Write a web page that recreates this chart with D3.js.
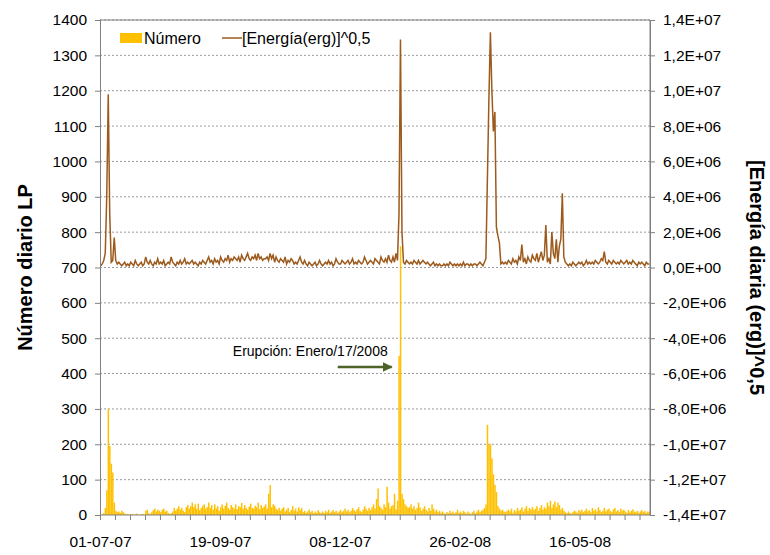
<!DOCTYPE html>
<html><head><meta charset="utf-8">
<script src="https://cdn.jsdelivr.net/npm/d3@7"></script>
<style>
body{margin:0;background:#fff;font-family:"Liberation Sans",Arial,sans-serif;}
.grid line{stroke:#9a9a9a;stroke-dasharray:2,2;}
</style></head>
<body><div id="chart"></div>
<script>
// numero diario de eventos LP, un valor por dia desde 01-07-2007
var numero = [
0,2,5,20,70,300,195,145,120,35, 12,8,10,6,12,8,4,2,3,1, 2,3,1,2,4,1,0,2,3,1,
12,15,5,3,8,14,18,10,15,12, 8,15,18,10,12,6,3,5,10,20, 12,18,25,15,20,12,8,22,28,18,
25,35,22,30,18,32,14,20,26,30, 18,22,35,20,28,15,30,18,25,12, 22,30,18,26,35,20,15,28,22,18,
30,16,25,22,34,18,28,20,15,24, 32,20,18,26,22,35,16,28,20,24, 30,18,60,85,22,30,26,18,14,20,
12,18,22,10,15,20,8,14,25,12, 18,10,22,14,20,8,12,6,10,15, 8,12,5,10,6,14,8,5,10,6,
12,8,15,6,10,14,8,12,6,10, 14,8,12,18,10,15,8,12,20,14, 10,16,22,12,8,15,25,18,12,20,
14,22,30,18,45,75,25,20,15,30, 22,80,35,18,25,28,60,15,40,450, 760,60,45,30,25,20,22,30,18,25,
15,20,35,22,12,18,25,15,10,20, 12,30,18,10,15,8,12,6,10,5, 3,8,5,12,6,10,4,8,15,6,
10,5,12,8,4,10,6,3,8,12, 5,10,15,8,12,15,20,30,255,200, 200,160,115,85,65,25,18,12,15,10,
8,12,15,10,18,6,14,10,20,12, 15,22,10,18,25,12,20,16,22,14, 18,25,12,20,28,15,22,18,35,25,
40,20,30,38,22,35,28,15,20,12, 8,5,10,6,4,8,12,10,6,14, 10,15,8,12,18,10,14,8,20,12,
16,10,22,14,8,12,20,10,15,18, 12,8,16,20,10,14,8,18,12,15, 10,6,14,8,12,16,10,8,12,6,
10,14,8,12,6,10,8
];
// [Energia(erg)]^0,5 diaria, en unidades de 1E5
var energia = [
1,2,4,8,40,98,30,3,4,17, 4,2,3,2,1,2,3,1,2,1, 3,2,1,4,2,1,2,3,1,2,
6,3,2,4,2,1,3,2,5,2, 3,2,4,1,2,3,2,6,3,2, 1,3,2,4,2,3,5,2,3,2,
3,4,2,3,2,1,3,2,4,3, 2,4,6,3,4,2,5,3,4,2, 6,4,3,5,4,7,3,5,4,6,
5,4,6,3,7,5,4,6,8,5, 4,6,5,7,4,8,5,6,4,5, 5,6,4,8,5,7,3,6,4,3,
5,4,3,6,2,4,3,5,4,2, 3,2,4,6,3,2,4,2,1,3, 2,1,2,3,1,2,4,2,1,2,
3,2,4,2,3,1,2,5,3,2, 2,4,3,2,3,4,2,3,5,2, 3,2,4,3,2,3,6,4,2,3,
4,3,2,5,4,3,2,6,4,3, 5,3,7,4,3,6,3,8,4,30, 129,20,3,2,4,3,2,3,2,4,
3,2,4,2,3,4,3,2,3,2, 1,2,3,1,2,1,2,1,1,2, 1,2,1,3,2,1,2,1,2,1,
2,1,3,1,2,2,1,2,1,2, 2,1,2,3,2,1,3,5,50,95, 133,100,77,88,23,18,14,2,3,2,
3,2,4,3,2,5,3,4,2,6, 4,13,3,5,2,6,4,3,7,5, 4,8,3,6,9,4,7,24,3,5,
2,20,8,5,16,3,12,16,42,6, 3,2,1,2,1,3,2,1,2,3, 2,3,1,2,4,2,3,2,3,2,
4,3,2,3,5,4,9,3,2,4, 3,2,4,3,2,3,2,4,3,2, 3,4,2,3,2,4,3,2,1,3,
2,3,2,1,3,2,2
];
var leftTicks = [0,100,200,300,400,500,600,700,800,900,1000,1100,1200,1300,1400];
var rightTicks = [-1.4e7,-1.2e7,-1e7,-8e6,-6e6,-4e6,-2e6,0,2e6,4e6,6e6,8e6,1e7,1.2e7,1.4e7];
var xLabels = ["01-07-07","19-09-07","08-12-07","26-02-08","16-05-08"];
var nDays = 367;

var W = 770, H = 555;
var m = {top:20, right:120, bottom:40, left:100};
var w = W - m.left - m.right, h = H - m.top - m.bottom;

var svg = d3.select("#chart").append("svg").attr("width", W).attr("height", H);
var g = svg.append("g").attr("transform", "translate(" + m.left + "," + m.top + ")");

var x = d3.scaleLinear().domain([0, nDays]).range([0, w]);
var yL = d3.scaleLinear().domain([0, 1400]).range([h, 0]);
var yR = d3.scaleLinear().domain([-1.4e7, 1.4e7]).range([h, 0]);

g.append("g").attr("class", "grid")
  .selectAll("line").data(leftTicks.slice(1)).enter().append("line")
  .attr("x1", 0).attr("x2", w).attr("y1", yL).attr("y2", yL);

// barras
var bw = x(1) - x(0);
g.selectAll(".bar").data(numero).enter().append("rect")
  .attr("x", function(d, i){ return x(i) + 0.1; })
  .attr("width", bw)
  .attr("y", function(d){ return yL(d); })
  .attr("height", function(d){ return h - yL(d); })
  .attr("fill", "#ffc000");

// linea de energia
var line = d3.line()
  .x(function(d, i){ return x(i + 0.5); })
  .y(function(d){ return yR(d * 1e5); });
g.append("path").datum(energia).attr("d", line)
  .attr("fill", "none").attr("stroke", "#9c5a1c").attr("stroke-width", 1.5);

// bordes
g.append("line").attr("x1", 0).attr("x2", w).attr("y1", 0).attr("y2", 0).attr("stroke", "#808080");
g.append("line").attr("x1", w).attr("x2", w).attr("y1", 0).attr("y2", h).attr("stroke", "#808080");

var ax = d3.axisLeft(yL).tickValues(leftTicks).tickSize(5).tickPadding(8).tickFormat(d3.format("d"));
var gl = g.append("g").call(ax);
var ar = d3.axisRight(yR).tickValues(rightTicks).tickSize(5).tickPadding(8)
  .tickFormat(function(d){
    if (d === 0) return "0,0E+00";
    var e = Math.floor(Math.log10(Math.abs(d)));
    var mnt = d / Math.pow(10, e);
    return mnt.toFixed(1).replace(".", ",") + "E+" + (e < 10 ? "0" + e : e);
  });
var gr = g.append("g").attr("transform", "translate(" + w + ",0)").call(ar);

var tickDays = d3.range(0, nDays, 10);
var axB = d3.axisBottom(x).tickValues(tickDays).tickSize(5).tickFormat(function(d){
  return d % 80 === 0 ? xLabels[d / 80] : "";
}).tickPadding(16);
var gb = g.append("g").attr("transform", "translate(0," + h + ")").call(axB);
gb.select(".domain").attr("d", "M0,0H" + w);

[gl, gr, gb].forEach(function(a){
  a.selectAll("path,line").attr("stroke", "#808080");
  a.selectAll("text").attr("font-family", "Liberation Sans, Arial, sans-serif")
    .attr("font-size", 15.5).attr("fill", "#000");
});

// titulos de ejes
svg.append("text").attr("transform", "translate(32," + (m.top + h/2) + ") rotate(-90)")
  .attr("text-anchor", "middle").attr("font-size", 20).attr("font-weight", "bold")
  .text("Número diario LP");
svg.append("text").attr("transform", "translate(750," + (m.top + h/2 + 10) + ") rotate(90)")
  .attr("text-anchor", "middle").attr("font-size", 20).attr("font-weight", "bold")
  .text("[Energía diaria (erg)]^0,5");

// leyenda
var lg = g.append("g").attr("transform", "translate(20,18)");
lg.append("rect").attr("x", 0).attr("y", -5).attr("width", 22).attr("height", 10).attr("fill", "#ffc000");
lg.append("text").attr("x", 24).attr("y", 6).attr("font-size", 16).text("Número");
lg.append("line").attr("x1", 102).attr("x2", 122).attr("y1", 0).attr("y2", 0)
  .attr("stroke", "#9c5a1c").attr("stroke-width", 1.5);
lg.append("text").attr("x", 122).attr("y", 6).attr("font-size", 16).text("[Energía(erg)]^0,5");

// anotacion de la erupcion
var eDay = 200;
g.append("text").attr("x", x(eDay) - 12).attr("y", 336).attr("text-anchor", "end")
  .attr("font-size", 14).text("Erupción: Enero/17/2008");
svg.append("defs").append("marker").attr("id", "arr").attr("viewBox", "0 0 10 10")
  .attr("refX", 9).attr("refY", 5).attr("markerWidth", 4).attr("markerHeight", 4).attr("orient", "auto")
  .append("path").attr("d", "M0,0L10,5L0,10z").attr("fill", "#4f6228");
g.append("line").attr("x1", x(eDay) - 62).attr("x2", x(eDay) - 8).attr("y1", 347).attr("y2", 347)
  .attr("stroke", "#4f6228").attr("stroke-width", 2.5).attr("marker-end", "url(#arr)");
</script></body></html>
